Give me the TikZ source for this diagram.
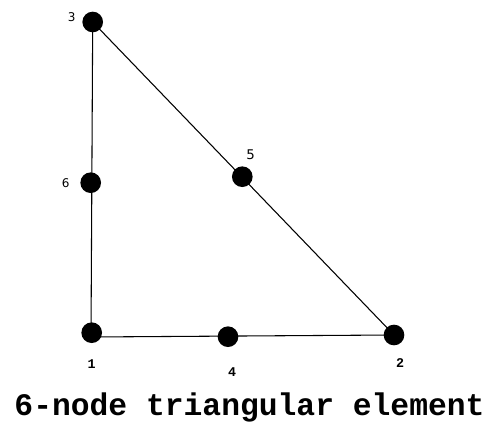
\documentclass[tikz,border=0pt]{standalone}
\usepackage{fontspec}
\newfontfamily\monob{Liberation Mono}
\newfontfamily\sansf{DejaVu Sans}
\begin{document}
\begin{tikzpicture}[x=0.75pt,y=-0.75pt,
  dot/.style={circle,fill=black,inner sep=0pt,minimum size=15.5pt},
  edge/.style={line width=0.8pt,black},
  slabel/.style={font=\sansf\fontsize{9}{11}\selectfont,inner sep=0pt},
  mlabel/.style={font=\monob\bfseries\fontsize{10}{12}\selectfont,inner sep=0pt},
  titlestyle/.style={font=\monob\bfseries\fontsize{23.5}{28}\selectfont,inner sep=0pt}]
\useasboundingbox (0,0) rectangle (489,423);
\coordinate (c1) at (91,337);
\coordinate (p3) at (92.7,22);
\coordinate (p2) at (394,335);
\draw[edge] (p3) -- (c1) -- (p2) -- cycle;
\node[dot] (n3) at (p3) {};
\node[dot] (n6) at (90.7,182.7) {};
\node[dot] (n5) at (242.3,176.7) {};
\node[dot] (n1) at (91.7,332.7) {};
\node[dot] (n4) at (228,336.7) {};
\node[dot] (n2) at (p2) {};
\node[slabel] (l3) at (71.7,17) {3};
\node[slabel] (l6) at (65.7,182.7) {6};
\node[slabel,font=\sansf\fontsize{10}{12}\selectfont] (l5) at (250.7,155) {5};
\node[mlabel] (l1) at (91.7,364) {1};
\node[mlabel] (l4) at (232,372) {4};
\node[mlabel] (l2) at (400,363) {2};
\node[titlestyle,anchor=base] (title) at (249.5,416) {6-node triangular element};
\end{tikzpicture}
\end{document}
